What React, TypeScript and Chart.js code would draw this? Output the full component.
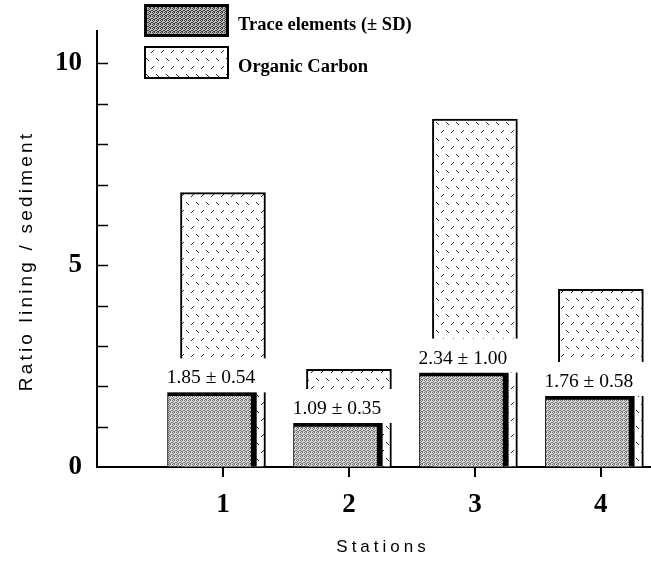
import React, { useEffect, useRef } from 'react';
import { Chart, registerables } from 'chart.js';

Chart.register(...registerables);

// ---------- data ----------
const stations = [1, 2, 3, 4];
const traceMeans = [1.85, 1.09, 2.34, 1.76];
const traceSD = [0.54, 0.35, 1.0, 0.58];
const organicCarbon = [6.8, 2.42, 8.62, 4.4];
const yLabelValues = [0, 5, 10];
const seriesLabels = ['Trace elements (\u00b1 SD)', 'Organic Carbon'];
const xTitle = 'Stations';
const yTitle = 'Ratio lining / sediment';

// style constants
const TRACE_SHIFT = -0.087; // trace bar drawn slightly left of station

function makeStipple(dark: string, light: string): CanvasPattern | string {
  const c = document.createElement('canvas');
  c.width = 4;
  c.height = 4;
  const g = c.getContext('2d');
  if (!g) return '#999';
  g.fillStyle = light;
  g.fillRect(0, 0, 4, 4);
  g.fillStyle = dark;
  const pts = [
    [0, 0], [2, 0], [1, 1], [3, 2], [0, 2], [2, 3], [1, 3],
  ];
  pts.forEach(([x, y]) => g.fillRect(x, y, 1, 1));
  const p = g.createPattern(c, 'repeat');
  return p || '#999';
}

function makeHatch(): CanvasPattern | string {
  const c = document.createElement('canvas');
  c.width = 10;
  c.height = 16;
  const g = c.getContext('2d');
  if (!g) return '#fff';
  g.fillStyle = '#ffffff';
  g.fillRect(0, 0, 10, 16);
  g.strokeStyle = '#2a2a2a';
  g.lineWidth = 1;
  g.beginPath();
  g.moveTo(1, 5);
  g.lineTo(4, 2);
  g.moveTo(6, 10);
  g.lineTo(9, 13);
  g.stroke();
  const p = g.createPattern(c, 'repeat');
  return p || '#fff';
}

const overlayPlugin = {
  id: 'overlay',
  afterDatasetsDraw(chart: any) {
    const ctx = chart.ctx;
    const y = chart.scales.y;
    // inward y ticks
    ctx.save();
    ctx.strokeStyle = '#000';
    ctx.lineWidth = 1.5;
    y.ticks.forEach((t: any) => {
      if (t.value === 0) return;
      const py = Math.round(y.getPixelForValue(t.value)) + 0.5;
      ctx.beginPath();
      ctx.moveTo(y.right, py);
      ctx.lineTo(y.right + 11, py);
      ctx.stroke();
    });
    ctx.restore();

    // value labels on trace bars (white label box masks the bar behind)
    const meta = chart.getDatasetMeta(0);
    ctx.save();
    meta.data.forEach((el: any) => {
      const left = el.x - el.width / 2;
      ctx.fillStyle = '#ffffff';
      ctx.fillRect(left - 2, el.y - 34, el.width + 14, 34);
    });
    ctx.fillStyle = '#000';
    ctx.font = '19.5px "Liberation Serif"';
    ctx.textAlign = 'center';
    ctx.textBaseline = 'alphabetic';
    meta.data.forEach((el: any, i: number) => {
      const txt = `${traceMeans[i].toFixed(2)} \u00b1 ${traceSD[i].toFixed(2)}`;
      ctx.fillText(txt, el.x - 1, el.y - 9);
    });
    ctx.restore();
  },
  afterDraw(chart: any) {
    const ctx = chart.ctx;
    const ds = chart.data.datasets;
    // legend
    const boxes = [
      { y: 4, lw: 3, fill: makeStipple('#3a3a3a', '#bdbdbd') },
      { y: 46, lw: 2, fill: ds[1].backgroundColor },
    ];
    ctx.save();
    boxes.forEach((b, i) => {
      const bx = 144, bw = 85, bh = 33;
      ctx.fillStyle = b.fill;
      ctx.fillRect(bx, b.y, bw, bh);
      ctx.strokeStyle = '#000';
      ctx.lineWidth = b.lw;
      ctx.strokeRect(bx + b.lw / 2, b.y + b.lw / 2, bw - b.lw, bh - b.lw);
      ctx.fillStyle = '#000';
      ctx.font = 'bold 18.5px "Liberation Serif"';
      ctx.textAlign = 'left';
      ctx.textBaseline = 'alphabetic';
      ctx.fillText(ds[i].label, 238, b.y + 26);
    });
    ctx.restore();

    // axis titles
    ctx.save();
    ctx.fillStyle = '#000';
    ctx.font = '19px "Liberation Sans"';
    (ctx as any).letterSpacing = '3.2px';
    ctx.textAlign = 'center';
    ctx.textBaseline = 'middle';
    ctx.translate(27, 261);
    ctx.rotate(-Math.PI / 2);
    ctx.fillText(yTitle, 0, 0);
    ctx.restore();

    ctx.save();
    ctx.fillStyle = '#000';
    ctx.font = '17px "Liberation Sans"';
    (ctx as any).letterSpacing = '4px';
    ctx.textAlign = 'center';
    ctx.textBaseline = 'middle';
    ctx.fillText(xTitle, 383, 547);
    ctx.restore();
  },
};

export default function App() {
  const ref = useRef<HTMLCanvasElement | null>(null);

  useEffect(() => {
    if (!ref.current) return;
    const stipple = makeStipple('#6e6e6e', '#dedede');
    const hatch = makeHatch();
    const chart = new Chart(ref.current, {
      type: 'bar',
      data: {
        datasets: [
          {
            label: seriesLabels[0],
            data: stations.map((s, i) => ({ x: s + TRACE_SHIFT, y: traceMeans[i] })),
            backgroundColor: stipple as any,
            borderColor: '#000',
            borderWidth: { left: 1, top: 4, right: 6, bottom: 0 } as any,
            borderSkipped: false,
            barThickness: 89,
            grouped: false,
          } as any,
          {
            label: seriesLabels[1],
            data: stations.map((s, i) => ({ x: s, y: organicCarbon[i] })),
            backgroundColor: hatch as any,
            borderColor: '#000',
            borderWidth: { left: 2, top: 2, right: 2, bottom: 0 } as any,
            borderSkipped: false,
            barThickness: 85,
            grouped: false,
          } as any,
        ],
      },
      options: {
        animation: false,
        responsive: true,
        maintainAspectRatio: false,
        layout: { padding: { top: 10, right: 1, left: 0, bottom: 0 } },
        plugins: {
          legend: { display: false },
          tooltip: { enabled: false },
        },
        scales: {
          x: {
            type: 'linear',
            offset: false,
            min: 0,
            max: 4.39,
            afterBuildTicks: (s: any) => {
              s.ticks = stations.map((v) => ({ value: v }));
            },
            afterFit: (s: any) => {
              s.height = 95;
            },
            ticks: {
              color: '#000',
              padding: 12,
              font: { family: '"Liberation Serif"', size: 27, weight: 'bold' },
            },
            grid: {
              offset: false,
              drawOnChartArea: false,
              drawTicks: true,
              tickLength: 10,
              color: '#000',
              lineWidth: 2,
            },
            border: { display: true, color: '#000', width: 2 },
          },
          y: {
            min: 0,
            max: 10.8,
            afterFit: (s: any) => {
              s.width = 97;
            },
            ticks: {
              stepSize: 1,
              includeBounds: false,
              color: '#000',
              padding: 15,
              font: { family: '"Liberation Serif"', size: 27, weight: 'bold' },
              callback: (v: any) => (yLabelValues.includes(Number(v)) ? String(v) : ''),
            },
            grid: { drawOnChartArea: false, drawTicks: false },
            border: { display: true, color: '#000', width: 2 },
          },
        },
      } as any,
      plugins: [overlayPlugin],
    });
    return () => chart.destroy();
  }, []);

  return (
    <div style={{ position: 'absolute', left: 0, top: 0, width: 651, height: 562, background: '#fff' }}>
      <canvas ref={ref} />
    </div>
  );
}
